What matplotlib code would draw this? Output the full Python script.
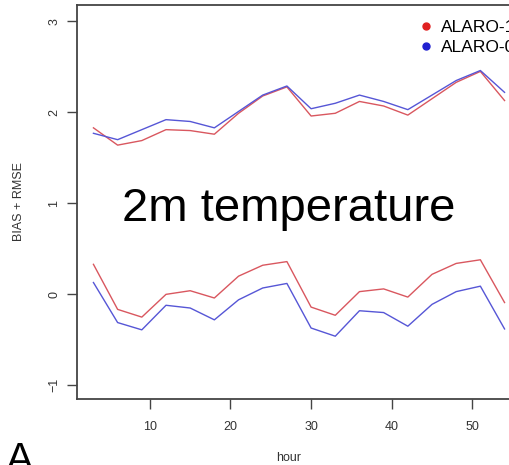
import matplotlib
matplotlib.use("Agg")
import matplotlib.pyplot as plt
from matplotlib.lines import Line2D

plt.rcParams['font.family'] = ['Liberation Sans', 'DejaVu Sans']

# forecast hours (every 3 h)
hours = [3, 6, 9, 12, 15, 18, 21, 24, 27, 30, 33, 36, 39, 42, 45, 48, 51, 54]

# RMSE curves (upper pair)
rmse_alaro1 = [1.83, 1.64, 1.69, 1.81, 1.80, 1.76, 1.99, 2.18, 2.28,
               1.96, 1.99, 2.12, 2.07, 1.97, 2.15, 2.33, 2.45, 2.13]
rmse_alaro0 = [1.77, 1.70, 1.81, 1.92, 1.90, 1.83, 2.01, 2.19, 2.29,
               2.04, 2.10, 2.19, 2.12, 2.03, 2.19, 2.35, 2.46, 2.22]

# BIAS curves (lower pair)
bias_alaro1 = [0.33, -0.165, -0.25, 0.00, 0.04, -0.04, 0.20, 0.32, 0.36,
               -0.14, -0.23, 0.03, 0.06, -0.03, 0.22, 0.34, 0.38, -0.09]
bias_alaro0 = [0.13, -0.31, -0.39, -0.12, -0.15, -0.28, -0.06, 0.07, 0.12,
               -0.37, -0.46, -0.18, -0.20, -0.35, -0.11, 0.03, 0.09, -0.38]

series_names = ["ALARO-1", "ALARO-0"]
yticks = [-1, 0, 1, 2, 3]
xticks = [10, 20, 30, 40, 50]

red_line = '#d9575f'
blue_line = '#5656d6'

fig = plt.figure(figsize=(5.1, 4.65), dpi=100)
# axes runs past the right edge on purpose (the reference is cropped)
ax = fig.add_axes([77 / 510, 1 - 399 / 465, (521 - 77) / 510, (399 - 5) / 465])

ax.plot(hours, rmse_alaro1, color=red_line, lw=1.0)
ax.plot(hours, rmse_alaro0, color=blue_line, lw=1.0)
ax.plot(hours, bias_alaro1, color=red_line, lw=1.0)
ax.plot(hours, bias_alaro0, color=blue_line, lw=1.0)

ax.set_xlim(0.96, 56.04)
ax.set_ylim(-1.15, 3.18)
ax.set_xticks(xticks)
ax.set_yticks(yticks)

for sp in ax.spines.values():
    sp.set_color('#444444')
    sp.set_linewidth(1.3)
ax.tick_params(colors='#444444', length=7, width=1.0, labelsize=9, labelcolor='#333333')
ax.tick_params(axis='y', labelrotation=90, pad=5)
for lab in ax.get_yticklabels():
    lab.set_va('center')
ax.tick_params(axis='x', pad=9)

ax.set_xlabel("hour", fontsize=9, color='#333333')
ax.set_ylabel("BIAS + RMSE", fontsize=9, color='#333333')
ax.yaxis.set_label_coords(-0.117, 0.5)
ax.xaxis.set_label_coords((289 - 77) / 444, -0.135)

handles = [Line2D([], [], ls='none', marker='o', ms=5, color='#e02020'),
           Line2D([], [], ls='none', marker='o', ms=5, color='#2020d0')]
fig.legend(handles, series_names, loc='upper left',
           bbox_to_anchor=(412 / 510, 1 - 13 / 465), frameon=False,
           fontsize=12.5, handlelength=0.8, handletextpad=0.45,
           labelspacing=0.3, borderaxespad=0)

fig.text(289 / 510, 1 - 209 / 465, "2m temperature", fontsize=34,
         ha='center', va='center', color='black')
fig.text(6 / 510, 1 - 441 / 465, "A", fontsize=30, ha='left', va='top',
         color='black')

fig.savefig("out.png", dpi=100)
